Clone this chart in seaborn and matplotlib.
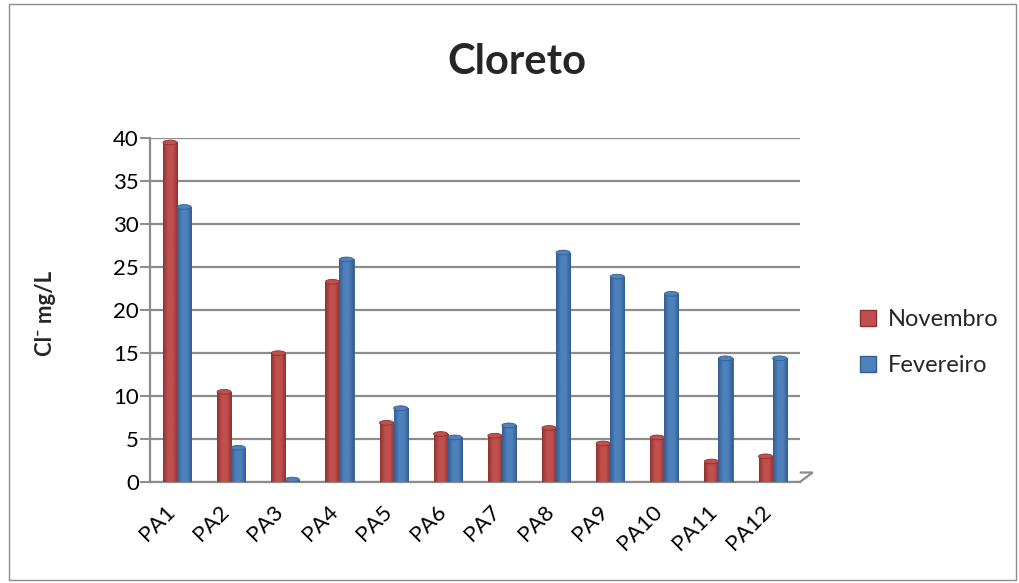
import numpy as np
import pandas as pd
import matplotlib
matplotlib.use("Agg")
import matplotlib.pyplot as plt
import matplotlib.transforms as mtransforms
from matplotlib.colors import LinearSegmentedColormap
from matplotlib.patches import Rectangle, Ellipse, Patch, Polygon
import seaborn as sns

# Chloride concentration per sampling point
pontos = ["PA1", "PA2", "PA3", "PA4", "PA5", "PA6",
          "PA7", "PA8", "PA9", "PA10", "PA11", "PA12"]
novembro = [39.5, 10.5, 15.0, 23.3, 6.9, 5.6, 5.4, 6.3, 4.5, 5.2, 2.4, 3.0]
fevereiro = [32.0, 4.0, 0.3, 25.9, 8.6, 5.2, 6.6, 26.7, 23.9, 21.9, 14.4, 14.4]
series = ["Novembro", "Fevereiro"]
cores = {"Novembro": "#C0504D", "Fevereiro": "#4F81BD"}
escuras = {"Novembro": "#8E3230", "Fevereiro": "#335E90"}

df = pd.DataFrame({
    "ponto": pontos * 2,
    "valor": novembro + fevereiro,
    "serie": [series[0]] * len(pontos) + [series[1]] * len(pontos),
})

sns.set_theme(style="white")
plt.rcParams["font.family"] = ["Lato", "DejaVu Sans"]

fig = plt.figure(figsize=(10.2, 5.83), dpi=100)
ax = fig.add_axes([0.147, 0.173, 0.637, 0.590])

sns.barplot(data=df, x="ponto", y="valor", hue="serie", order=pontos,
            hue_order=series, palette=cores, width=0.52, ax=ax,
            legend=False, zorder=3, saturation=1)

# cylinder-like shading on every bar
for i, bar in enumerate(ax.patches):
    nome = series[0] if i < len(pontos) else series[1]
    base, escura = cores[nome], escuras[nome]
    cmap = LinearSegmentedColormap.from_list(nome, [escura, base, base, escura])
    x0, y0 = bar.get_x(), bar.get_y()
    w, h = bar.get_width(), bar.get_height()
    bar.set_edgecolor(escura)
    bar.set_linewidth(0.6)
    grad = np.linspace(0, 1, 64).reshape(1, -1)
    im = ax.imshow(grad, cmap=cmap, extent=[x0, x0 + w, y0, y0 + h],
                   aspect="auto", zorder=3.5)
    im.set_clip_path(bar)
    cap = Ellipse((x0 + w / 2, y0 + h), w, 0.55, facecolor=base,
                  edgecolor=escura, linewidth=0.6, zorder=4)
    ax.add_patch(cap)

ax.set_xlim(-0.5, len(pontos) - 0.5)
ax.set_ylim(0, 40)
ax.set_yticks(range(0, 41, 5))
ax.yaxis.grid(True, color="#8C8C8C", linewidth=1.6, zorder=0)
ax.xaxis.grid(False)

for lado in ["top", "right"]:
    ax.spines[lado].set_visible(False)
for lado in ["left", "bottom"]:
    ax.spines[lado].set_color("#8C8C8C")
    ax.spines[lado].set_linewidth(1.6)

# slanted floor edge at the right end
piso = Polygon([[1.0, 0.0], [1.02, 0.028], [1.0, 0.028]], closed=False,
               transform=ax.transAxes, fill=False, edgecolor="#8C8C8C",
               linewidth=1.6, clip_on=False, zorder=2)
ax.add_patch(piso)

ax.tick_params(axis="y", which="both", left=True, length=7, width=1.4,
               color="#8C8C8C", labelsize=16, pad=1, labelcolor="black")
ax.tick_params(axis="x", bottom=False, labelsize=16, pad=8, labelcolor="black")
desloca = mtransforms.ScaledTranslation(-12 / 100, 0, fig.dpi_scale_trans)
for rotulo in ax.get_xticklabels():
    rotulo.set_rotation(45)
    rotulo.set_ha("right")
    rotulo.set_rotation_mode("anchor")
    rotulo.set_transform(rotulo.get_transform() + desloca)

ax.set_xlabel("")
ax.set_ylabel("Cl⁻ mg/L", fontsize=16, fontweight="bold")
ax.yaxis.set_label_coords(-0.145, 0.49)

fig.text(0.507, 0.893, "Cloreto", ha="center", va="center",
         fontsize=30, fontweight="bold")

# legend
handles = [Patch(facecolor=cores[s], edgecolor=escuras[s]) for s in series]
fig.legend(handles, series, loc="center left", bbox_to_anchor=(0.822, 0.412),
           frameon=False, fontsize=17, handlelength=0.7, handleheight=0.7,
           labelspacing=1.05, handletextpad=0.5)

# outer chart border
fig.patches.append(Rectangle((0.009, 0.005), 0.987, 0.988, transform=fig.transFigure,
                             fill=False, edgecolor="#8C8C8C", linewidth=1.0))

fig.savefig("out.png", dpi=100, facecolor="white")
